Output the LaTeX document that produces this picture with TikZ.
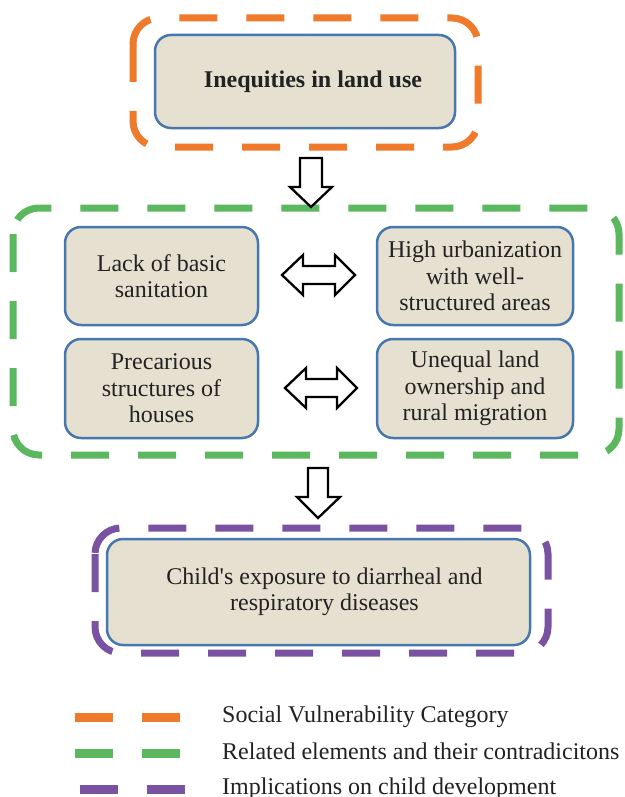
\documentclass[tikz,border=0pt]{standalone}
\usepackage{fontspec}
\setmainfont{Liberation Serif}
\newfontfamily\nomapserif{Liberation Serif}
\definecolor{dorange}{HTML}{F07A2C}
\definecolor{dgreen}{HTML}{5CB85E}
\definecolor{dpurple}{HTML}{7A52A2}
\definecolor{boxfill}{HTML}{E5E0CF}
\definecolor{boxline}{HTML}{4677AE}
\definecolor{txt}{HTML}{222222}
\tikzset{
  catbox/.style={draw=boxline, line width=2.5pt, fill=boxfill, rounded corners=16pt,
    align=center, text=txt, inner sep=0pt,
    font=\fontsize{24}{26.5}\selectfont},
  dashframe/.style={line width=7pt, rounded corners=26pt, dash pattern=on 38pt off 29pt},
  blockarrow/.style={draw=black, fill=white, line width=2.3pt, line join=miter},
  legdash/.style={line width=9pt, dash pattern=on 38pt off 29pt},
  legtext/.style={anchor=base west, text=txt, inner sep=0pt,
    font=\fontsize{24}{26.5}\selectfont},
}
\begin{document}
\begin{tikzpicture}[x=1pt,y=-1pt]
\useasboundingbox (0,0) rectangle (624,797);
\fill[white] (0,0) rectangle (624,797);

% frames
\draw[dashframe, dorange] (133,18) rectangle (478,147);
\draw[dashframe, dgreen] (13,208) rectangle (619,455);
\draw[dashframe, dpurple] (95,528) rectangle (548,653);

% boxes
\node[catbox, minimum width=300pt, minimum height=93pt, font=\fontsize{24}{26.5}\selectfont\bfseries] (top) at (305,81.5) {\hspace*{16pt}Inequities in land use};
\node[catbox, minimum width=193pt, minimum height=98pt] (lack) at (161.5,276) {Lack of basic\\sanitation};
\node[catbox, minimum width=196pt, minimum height=98pt] (high) at (475,276) {High urbanization\\with well-\\structured areas};
\node[catbox, minimum width=193pt, minimum height=99pt] (prec) at (161.5,388.5) {Precarious\\structures of\\houses};
\node[catbox, minimum width=196pt, minimum height=99pt] (uneq) at (475,388.5) {Unequal land\\ownership and\\rural migration};
\node[catbox, minimum width=423pt, minimum height=106pt] (child) at (318.5,592) {\hspace*{12pt}Child{\nomapserif'}s exposure to diarrheal and\\\hspace*{12pt}respiratory diseases};

% block arrows
\draw[blockarrow] (300,158) -- (322,158) -- (322,187) -- (332,187) -- (311,207) -- (290,187) -- (300,187) -- cycle;
\draw[blockarrow] (308,468) -- (328,468) -- (328,497) -- (340,497) -- (318,518) -- (297,497) -- (308,497) -- cycle;
\draw[blockarrow] (282,275) -- (303,255) -- (303,266) -- (335,266) -- (335,255) -- (355,275) -- (335,295) -- (335,284) -- (303,284) -- (303,295) -- cycle;
\draw[blockarrow] (285,388) -- (306,368) -- (306,379) -- (337,379) -- (337,368) -- (357,388) -- (337,408) -- (337,397) -- (306,397) -- (306,408) -- cycle;

% legend
\draw[legdash, dorange] (75,717.5) -- (180,717.5);
\draw[legdash, dgreen] (75,753.5) -- (180,753.5);
\draw[legdash, dpurple] (80,789) -- (185,789);
\node[legtext] (l1) at (222,722.7) {Social Vulnerability Category};
\node[legtext] (l2) at (222,759.3) {Related elements and their contradicitons};
\node[legtext] (l3) at (222,794.3) {Implications on child development};
\end{tikzpicture}
\end{document}
